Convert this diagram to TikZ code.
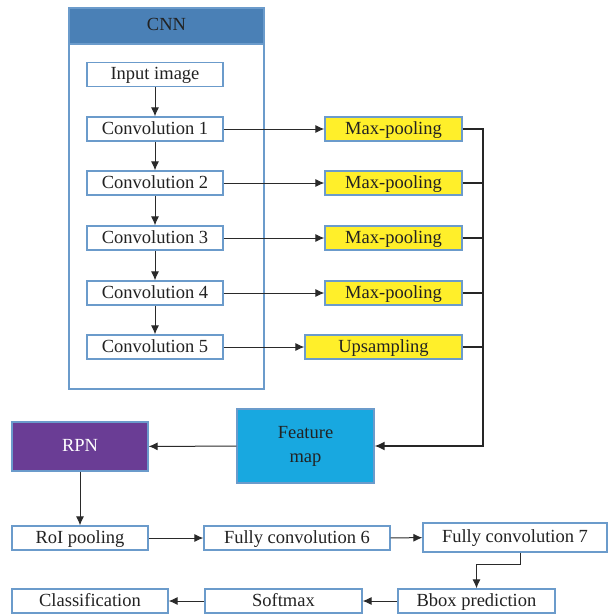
\documentclass[tikz,border=0pt]{standalone}
\usepackage{fontspec}
\setmainfont{Liberation Serif}
\usetikzlibrary{arrows.meta,calc}
\definecolor{boxline}{HTML}{6B9BCB}
\definecolor{headblue}{HTML}{4A80B6}
\definecolor{ylw}{HTML}{FFEF2A}
\definecolor{rpnpurple}{HTML}{6A3D95}
\definecolor{featblue}{HTML}{18A8E0}
\definecolor{txt}{HTML}{222222}
\definecolor{arr}{HTML}{2A2A2A}
\tikzset{
  box/.style={draw=boxline,line width=1.2pt,fill=white,inner sep=0pt,minimum height=24pt,
    font=\fontsize{18.5}{22}\selectfont,text=txt,text height=13pt,text depth=3pt},
  ybox/.style={box,fill=ylw},
  conn/.style={draw=arr,line width=1pt,-{Latex[length=9pt,width=8pt]}},
  trunk/.style={draw=black!85,line width=1.6pt},
}
\begin{document}
\begin{tikzpicture}[x=1pt,y=-1pt]
\useasboundingbox (0,0) rectangle (608,615);
% CNN container
\node[draw=boxline,line width=1.2pt,minimum width=195pt,minimum height=381pt,inner sep=0pt] (cnn) at (166.5,198.5) {};
\node[draw=boxline,line width=1.2pt,fill=headblue,minimum width=195pt,minimum height=36pt,inner sep=0pt,font=\fontsize{18.5}{22}\selectfont,text=txt,text height=13pt,text depth=3pt] (cnnhead) at (166.5,26) {CNN};
% CNN layers
\node[box,minimum width=136pt] (input) at (155,74.5) {Input image};
\node[box,minimum width=136pt] (c1) at (155,129) {Convolution 1};
\node[box,minimum width=136pt] (c2) at (155,183) {Convolution 2};
\node[box,minimum width=136pt] (c3) at (155,238) {Convolution 3};
\node[box,minimum width=136pt] (c4) at (155,293) {Convolution 4};
\node[box,minimum width=136pt] (c5) at (155,347) {Convolution 5};
% pooling
\node[ybox,minimum width=137pt] (m1) at (393.5,129) {Max-pooling};
\node[ybox,minimum width=137pt] (m2) at (393.5,183) {Max-pooling};
\node[ybox,minimum width=137pt] (m3) at (393.5,238) {Max-pooling};
\node[ybox,minimum width=137pt] (m4) at (393.5,293) {Max-pooling};
\node[ybox,minimum width=157pt] (up) at (383.5,347) {Upsampling};
% feature map and RPN
\node[draw=boxline,line width=1.2pt,fill=featblue,text=txt,inner sep=0pt,minimum width=137pt,minimum height=74pt,align=center,
  font=\fontsize{18.5}{24}\selectfont] (feat) at (305.5,446) {Feature\\map};
\node[box,fill=rpnpurple,text=white,minimum width=136pt,minimum height=49pt] (rpn) at (80,446.5) {RPN};
% bottom rows
\node[box,minimum width=136pt] (roi) at (80,538) {RoI pooling};
\node[box,minimum width=186pt] (fc6) at (297,538) {Fully convolution 6};
\node[box,minimum width=184pt,minimum height=29pt] (fc7) at (515,537.5) {Fully convolution 7};
\node[box,minimum width=156pt] (cls) at (90,601) {Classification};
\node[box,minimum width=157pt] (soft) at (283.5,601) {Softmax};
\node[box,minimum width=157pt] (bbox) at (476.5,601) {Bbox prediction};
% CNN chain
\draw[conn] (input) -- (c1);
\draw[conn] (c1) -- (c2);
\draw[conn] (c2) -- (c3);
\draw[conn] (c3) -- (c4);
\draw[conn] (c4) -- (c5);
% to pooling
\draw[conn] (c1) -- (m1);
\draw[conn] (c2) -- (m2);
\draw[conn] (c3) -- (m3);
\draw[conn] (c4) -- (m4);
\draw[conn] (c5) -- (up);
% trunk
\coordinate (bustop) at (483,129);
\coordinate (busbot) at (483,446);
\draw[trunk] (m2.east) -- (m2.east -| bustop);
\draw[trunk] (m3.east) -- (m3.east -| bustop);
\draw[trunk] (m4.east) -- (m4.east -| bustop);
\draw[trunk] (up.east) -- (up.east -| bustop);
\draw[trunk,-{Latex[length=10pt,width=9pt]}] (m1.east) -- (bustop) -- (busbot) -- (feat.east);
% lower flow
\draw[conn] (feat) -- (rpn);
\draw[conn] (rpn) -- (roi);
\draw[conn] (roi) -- (fc6);
\draw[conn] (fc6) -- (fc7);
\draw[conn] ($(fc7.south)+(5,0)$) -- ++(0,12) -| (bbox.north);
\draw[conn] (bbox) -- (soft);
\draw[conn] (soft) -- (cls);
\end{tikzpicture}
\end{document}
